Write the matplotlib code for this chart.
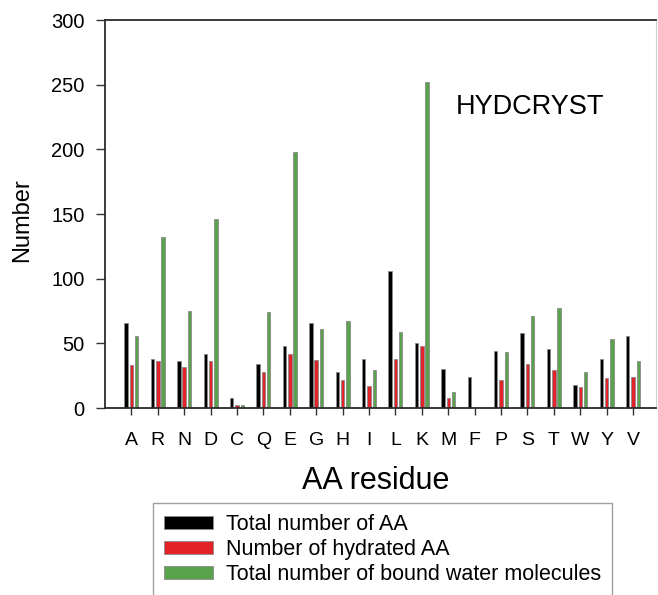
import matplotlib
matplotlib.use("Agg")
import matplotlib.pyplot as plt
import numpy as np

plt.rcParams['font.family'] = ['Liberation Sans', 'DejaVu Sans']

residues = ['A', 'R', 'N', 'D', 'C', 'Q', 'E', 'G', 'H', 'I',
            'L', 'K', 'M', 'F', 'P', 'S', 'T', 'W', 'Y', 'V']
total_aa = [66, 38, 36, 42, 8, 34, 48, 66, 28, 38,
            106, 50, 30, 24, 44, 58, 46, 18, 38, 56]
hydrated_aa = [33, 36, 32, 36, 2, 28, 42, 37, 22, 17,
               38, 48, 8, 0, 22, 34, 29, 16, 23, 24]
bound_water = [56, 132, 75, 146, 2, 74, 198, 61, 67, 29,
               59, 252, 12, 0, 43, 71, 77, 28, 53, 36]
series_labels = ['Total number of AA', 'Number of hydrated AA',
                 'Total number of bound water molecules']
yticks = [0, 50, 100, 150, 200, 250, 300]

W, H = 658, 595
fig = plt.figure(figsize=(W / 100, H / 100), dpi=100)
ax = fig.add_axes([105 / W, 1 - 408 / H, (656 - 105) / W, (408 - 20) / H])

x = np.arange(len(residues))
bw = 0.13
off = 0.2
colors = ['#000000', '#e3222a', '#5aa24c']
edge = '#8a8a8a'
handles = []
for vals, dx, c, lab in zip([total_aa, hydrated_aa, bound_water], [-off, 0, off],
                            colors, series_labels):
    b = ax.bar(x + dx, vals, width=bw, color=c, edgecolor=edge, linewidth=0.6, label=lab)
    handles.append(b)

ax.set_xlim(-1.0, 19.87)
ax.set_ylim(0, 300)
ax.set_xticks(x)
ax.set_xticklabels(residues)
ax.set_yticks(yticks)

for s in ['left', 'bottom', 'top']:
    ax.spines[s].set_color('#2b2b2b')
    ax.spines[s].set_linewidth(1.3)
ax.spines['right'].set_color('#d0d0d0')
ax.spines['right'].set_linewidth(0.8)

ax.tick_params(axis='y', direction='out', length=6.5, width=1.0, color='#333333',
               labelsize=14.5, pad=8)
ax.tick_params(axis='x', direction='out', length=5, width=1.0, color='#333333',
               labelsize=14, pad=12)

ax.set_ylabel('Number', fontsize=17, va='center', ha='center')
ax.yaxis.set_label_coords((22 - 105) / 551, (408 - 220) / 388)
ax.set_xlabel('AA residue', fontsize=22, va='center', ha='center')
ax.xaxis.set_label_coords((376 - 105) / 551, (408 - 481) / 388)

ax.text((530 - 105) / 551, (408 - 107.5) / 388, 'HYDCRYST', transform=ax.transAxes,
        fontsize=19.5, ha='center', va='center')

leg = fig.legend(handles=handles, labels=series_labels, loc='upper left',
                 bbox_to_anchor=(153 / W, 1 - 503 / H), fontsize=15.5,
                 frameon=True, fancybox=False, edgecolor='#888888',
                 handlelength=2.3, handleheight=0.56, handletextpad=0.6,
                 labelspacing=0.2, borderpad=0.5, borderaxespad=0)
leg.get_frame().set_linewidth(1.0)
for h in leg.legend_handles:
    h.set_edgecolor('#8a8a8a')

fig.savefig('out.png', dpi=100)
